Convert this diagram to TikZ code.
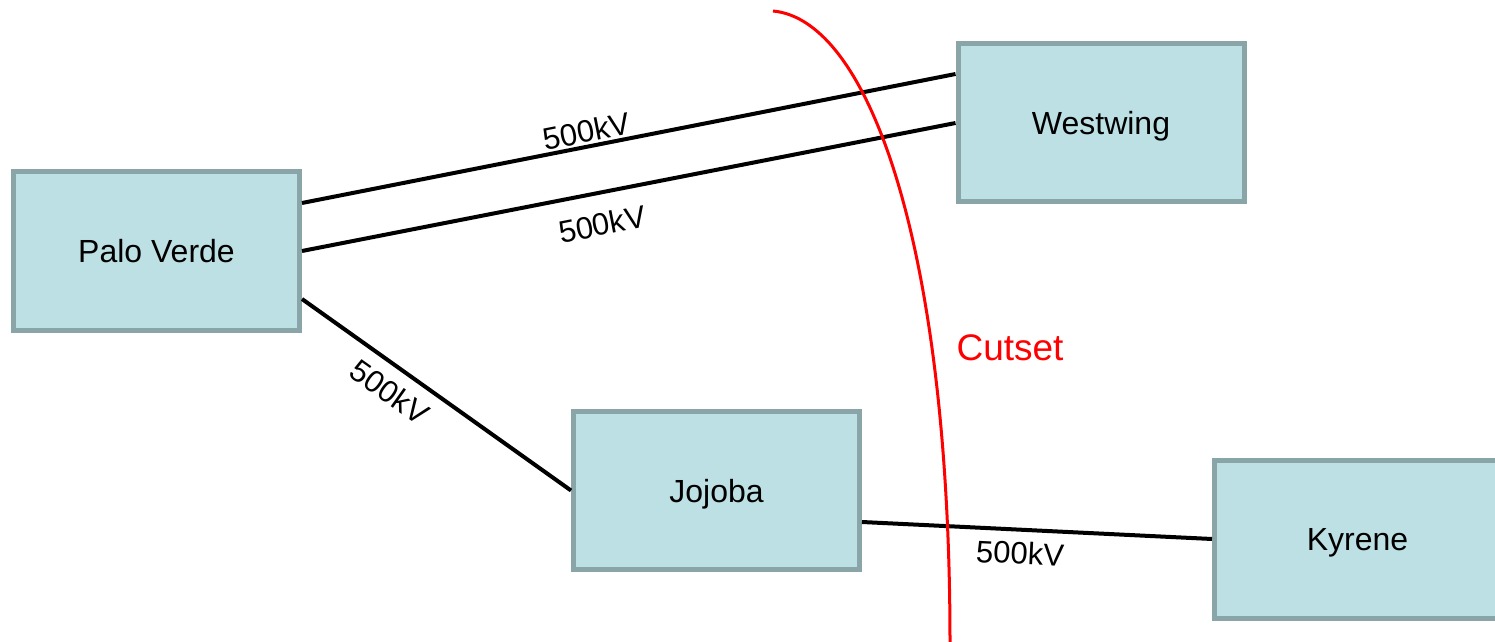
\documentclass[tikz,border=0pt]{standalone}
\usepackage{fontspec}
\setmainfont{Liberation Sans}
\usetikzlibrary{positioning}
\definecolor{boxfill}{HTML}{BCE0E3}
\definecolor{boxline}{HTML}{8AA5A8}
\begin{document}
\begin{tikzpicture}[x=0.5pt,y=-0.5pt,
    station/.style={draw=boxline,line width=2.5pt,fill=boxfill,text depth=0pt,
        minimum width=143pt,minimum height=79pt,font=\fontsize{16}{19}\selectfont},
    line500/.style={line width=2pt},
    kv/.style={font=\fontsize{15.5}{18}\selectfont,sloped,inner sep=1pt},
    cut/.style={red,line width=1.5pt}]
    \useasboundingbox (0,0) rectangle (1495,642);
    %% stations
    \node[station] (pv) at (156.5,251) {Palo Verde};
    \node[station] (ww) at (1101,123) {Westwing};
    \node[station] (jj) at (716.5,490.5) {Jojoba};
    \node[station] (ky) at (1357.5,539) {Kyrene};
    %% lines
    \draw[line500] ([yshift=24pt]pv.east) -- ([yshift=24.5pt]ww.west)
        node[kv,above,pos=0.44] {500kV};
    \draw[line500] (pv.east) -- (ww.west)
        node[kv,below=8pt,pos=0.45] {500kV};
    \draw[line500] ([yshift=-24pt]pv.east) -- (jj.west)
        node[kv,below=5pt,pos=0.38] {500kV};
    \draw[line500] ([yshift=-15.75pt]jj.east) -- (ky.west)
        node[kv,below=4pt,pos=0.455] {500kV};
    %% cutset
    \draw[cut] (773,11) .. controls (870,20) and (950,250) .. (950,642);
    \node[red,font=\fontsize{18.5}{22}\selectfont] (cutlabel) at (1010,348) {Cutset};
\end{tikzpicture}
\end{document}
